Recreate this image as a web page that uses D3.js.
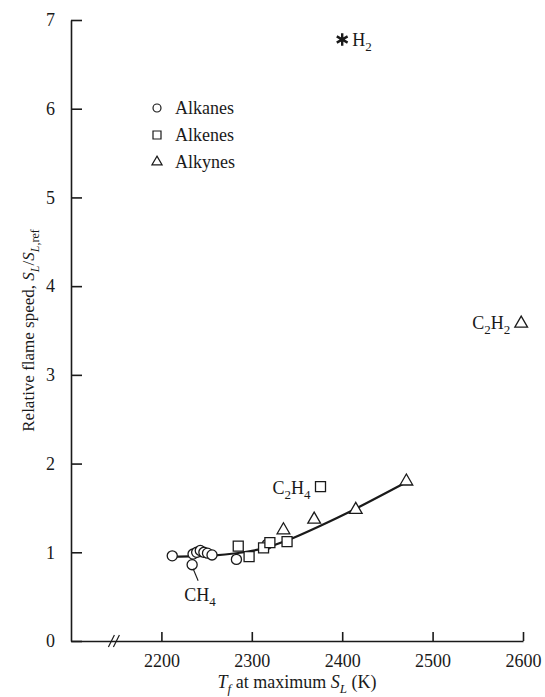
<!DOCTYPE html>
<html>
<head>
<meta charset="utf-8">
<script src="https://cdn.jsdelivr.net/npm/d3@7"></script>
<style>
  body { margin: 0; background: #fff; }
  text { font-family: "Liberation Serif", "Times New Roman", serif; fill: #1a1a1a; }
</style>
</head>
<body>
<div id="vis"></div>
<script>
// frame
const FRAME_WIDTH = 545;
const FRAME_HEIGHT = 697;
const MARGINS = {left: 71, right: 22, top: 20, bottom: 56};
const INK = "#1a1a1a";

// data: [flame temperature (K), relative flame speed]
const xTicks = [2200, 2300, 2400, 2500, 2600];
const yTicks = [0, 1, 2, 3, 4, 5, 6, 7];
const alkanes = [[2212, 0.96], [2234, 0.86], [2235, 0.98], [2239, 1.00], [2243, 1.02],
                 [2247, 1.00], [2251, 0.99], [2256, 0.97], [2283, 0.92], [2317, 1.09]];
const alkenes = [[2285, 1.07], [2297, 0.95], [2313, 1.05], [2320, 1.11], [2339, 1.12], [2376, 1.74]];
const alkynes = [[2335, 1.25], [2369, 1.37], [2415, 1.48], [2471, 1.80], [2598, 3.58]];
const hydrogen = [[2400, 6.78]];
const fitCurve = [[2212, 0.95], [2260, 0.96], [2285, 0.99], [2310, 1.03], [2340, 1.13],
                  [2372, 1.28], [2410, 1.46], [2471, 1.79]];
const legendNames = ["Alkanes", "Alkenes", "Alkynes"];

const svg = d3.select("#vis")
  .append("svg")
    .attr("width", FRAME_WIDTH)
    .attr("height", FRAME_HEIGHT);

// scales
const X_SCALE = d3.scaleLinear()
  .domain([2100, 2600])
  .range([MARGINS.left, FRAME_WIDTH - MARGINS.right]);
const Y_SCALE = d3.scaleLinear()
  .domain([0, 7])
  .range([FRAME_HEIGHT - MARGINS.bottom, MARGINS.top]);

// axes (ticks point inward)
const xAxis = svg.append("g")
  .attr("transform", "translate(0," + Y_SCALE(0) + ")")
  .call(d3.axisBottom(X_SCALE).tickValues(xTicks).tickFormat(d3.format("d"))
    .tickSizeInner(-9).tickSizeOuter(0).tickPadding(13));
const yAxis = svg.append("g")
  .attr("transform", "translate(" + X_SCALE(2100) + ",0)")
  .call(d3.axisLeft(Y_SCALE).tickValues(yTicks).tickFormat(d3.format("d"))
    .tickSizeInner(-11).tickSizeOuter(0).tickPadding(16));

[xAxis, yAxis].forEach(a => {
  a.attr("font-family", null);
  a.selectAll("path, line").attr("stroke", INK).attr("stroke-width", 1.6);
  a.selectAll("text")
    .style("font-family", "'Liberation Serif', serif")
    .style("font-size", "18px")
    .attr("fill", INK);
});

// axis break mark
const bx = X_SCALE(2148), by = Y_SCALE(0);
[-3, 2].forEach(off => {
  svg.append("line")
    .attr("x1", bx + off - 3).attr("y1", by + 6)
    .attr("x2", bx + off + 3).attr("y2", by - 6)
    .attr("stroke", INK).attr("stroke-width", 1.2);
});

// fitted curve
svg.append("path")
  .datum(fitCurve)
  .attr("fill", "none")
  .attr("stroke", INK)
  .attr("stroke-width", 2.2)
  .attr("d", d3.line()
    .x(d => X_SCALE(d[0]))
    .y(d => Y_SCALE(d[1]))
    .curve(d3.curveBasis));

// markers
function drawMarks(data, type, size, strokeW) {
  svg.selectAll(null)
    .data(data)
    .enter()
    .append("path")
      .attr("transform", d => "translate(" + X_SCALE(d[0]) + "," + Y_SCALE(d[1]) + ")")
      .attr("d", d3.symbol().type(type).size(size))
      .attr("fill", type === d3.symbolAsterisk ? "none" : "#fff")
      .attr("stroke", INK)
      .attr("stroke-width", strokeW);
}
drawMarks(alkanes, d3.symbolCircle, 80, 1.3);
drawMarks(alkenes, d3.symbolSquare, 100, 1.3);
drawMarks(alkynes, d3.symbolTriangle, 70, 1.3);
drawMarks(hydrogen, d3.symbolAsterisk, 110, 2.4);

// chemical formula text with subscripts
function formula(x, y, parts, anchor) {
  const t = svg.append("text")
    .attr("x", x).attr("y", y)
    .attr("font-size", 18)
    .attr("text-anchor", anchor || "start");
  let sub = false;
  parts.forEach(p => {
    const isSub = /^[0-9]+$/.test(p);
    const ts = t.append("tspan").text(p);
    if (isSub) ts.attr("font-size", 13);
    if (isSub !== sub) ts.attr("dy", isSub ? 5 : -5);
    sub = isSub;
  });
}
const ch4 = alkanes[1], c2h4 = alkenes[5], c2h2 = alkynes[4], h2 = hydrogen[0];
formula(X_SCALE(h2[0]) + 10, Y_SCALE(h2[1]) + 6, ["H", "2"]);
formula(X_SCALE(c2h2[0]) - 11, Y_SCALE(c2h2[1]) + 6, ["C", "2", "H", "2"], "end");
formula(X_SCALE(c2h4[0]) - 10, Y_SCALE(c2h4[1]) + 7, ["C", "2", "H", "4"], "end");
formula(X_SCALE(ch4[0]) - 8, Y_SCALE(ch4[1]) + 36, ["C", "H", "4"]);

// CH4 leader line
svg.append("line")
  .attr("x1", X_SCALE(ch4[0]) + 1).attr("y1", Y_SCALE(ch4[1]) + 4)
  .attr("x2", X_SCALE(ch4[0]) + 6).attr("y2", Y_SCALE(ch4[1]) + 16)
  .attr("stroke", INK).attr("stroke-width", 1.1);

// legend
const legendTypes = [d3.symbolCircle, d3.symbolSquare, d3.symbolTriangle];
const legendSizes = [50, 64, 45];
legendNames.forEach((name, i) => {
  const ly = 108 + i * 27;
  svg.append("path")
    .attr("transform", "translate(157," + ly + ")")
    .attr("d", d3.symbol().type(legendTypes[i]).size(legendSizes[i]))
    .attr("fill", "#fff").attr("stroke", INK).attr("stroke-width", 1.2);
  svg.append("text")
    .attr("x", 175).attr("y", ly + 6)
    .attr("font-size", 18)
    .text(name);
});

// x axis title
const xt = svg.append("text")
  .attr("x", (X_SCALE(2100) + X_SCALE(2600)) / 2)
  .attr("y", 688)
  .attr("text-anchor", "middle")
  .attr("font-size", 18);
xt.append("tspan").attr("font-style", "italic").text("T");
xt.append("tspan").attr("font-style", "italic").attr("font-size", 13).attr("dy", 5).text("f");
xt.append("tspan").attr("dy", -5).text(" at maximum ");
xt.append("tspan").attr("font-style", "italic").text("S");
xt.append("tspan").attr("font-style", "italic").attr("font-size", 13).attr("dy", 5).text("L");
xt.append("tspan").attr("dy", -5).text(" (K)");

// y axis title
const yt = svg.append("text")
  .attr("transform", "translate(34," + Y_SCALE(3.5) + ") rotate(-90)")
  .attr("text-anchor", "middle")
  .attr("font-size", 17);
yt.append("tspan").text("Relative flame speed, ");
yt.append("tspan").attr("font-style", "italic").text("S");
yt.append("tspan").attr("font-style", "italic").attr("font-size", 12).attr("dy", 5).text("L");
yt.append("tspan").attr("dy", -5).text("/");
yt.append("tspan").attr("font-style", "italic").text("S");
yt.append("tspan").attr("font-style", "italic").attr("font-size", 12).attr("dy", 5).text("L");
yt.append("tspan").attr("font-size", 12).text(",ref");
</script>
</body>
</html>
